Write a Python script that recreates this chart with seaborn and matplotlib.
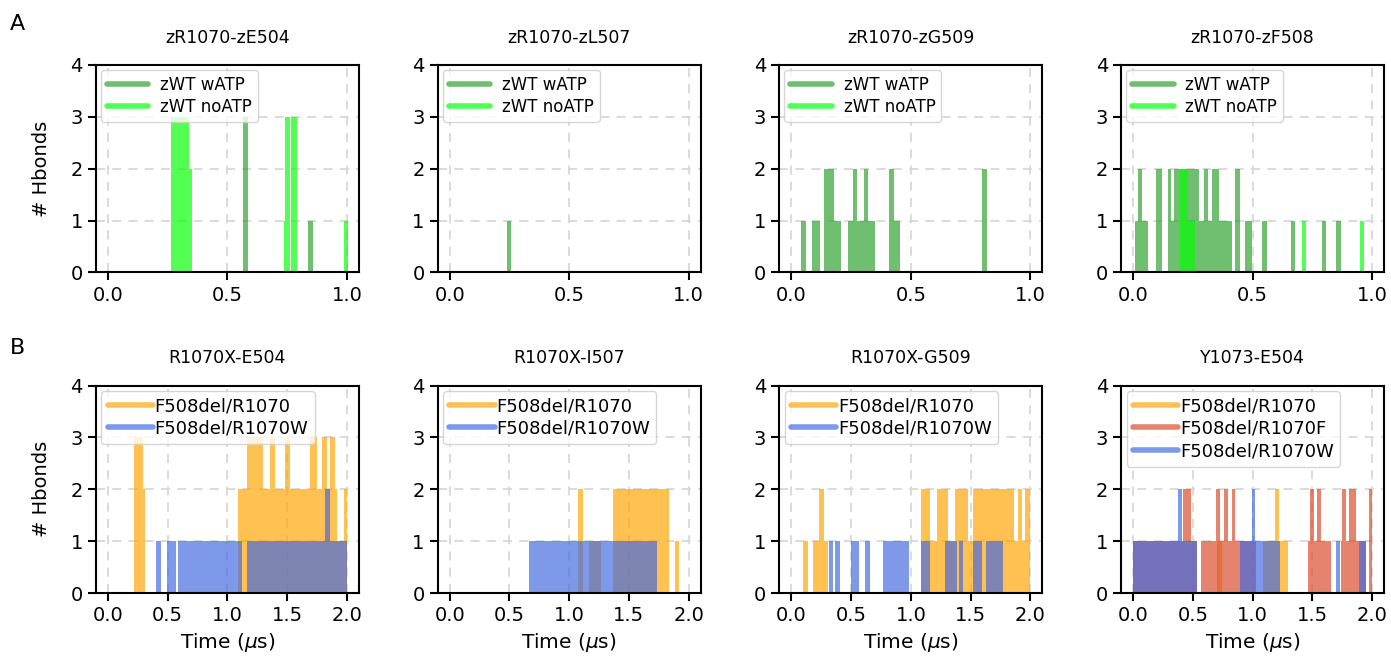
import matplotlib
matplotlib.use("Agg")
import matplotlib.pyplot as plt
import seaborn as sns
from matplotlib.lines import Line2D

# each trace is a step series: time (us) where the H-bond count changes,
# and the count held from that time until the next one

# --- row A: zebrafish, with / without ATP ---
titles_a = ['zR1070-zE504', 'zR1070-zL507', 'zR1070-zG509', 'zR1070-zF508']
labels_a = ['zWT wATP', 'zWT noATP']

e504_watp_t = [0, 0.566, 0.587, 0.839, 0.857, 1.0]
e504_watp_n = [0, 3, 0, 1, 0, 0]
e504_noatp_t = [0, 0.263, 0.338, 0.350, 0.735, 0.742, 0.762, 0.766, 0.793, 0.989, 1.003]
e504_noatp_n = [0, 3, 2, 0, 1, 3, 0, 3, 0, 1, 1]

l507_watp_t = [0, 0.240, 0.257, 1.0]
l507_watp_n = [0, 1, 0, 0]
l507_noatp_t = [0, 1.0]
l507_noatp_n = [0, 0]

g509_watp_t = [0, 0.042, 0.063, 0.086, 0.119, 0.137, 0.177, 0.208, 0.236, 0.257,
               0.275, 0.302, 0.321, 0.348, 0.408, 0.429, 0.453, 0.797, 0.818, 1.0]
g509_watp_n = [0, 1, 0, 1, 0, 2, 1, 0, 1, 2,
               1, 2, 1, 0, 2, 1, 0, 2, 0, 0]
g509_noatp_t = [0, 1.0]
g509_noatp_n = [0, 0]

f508_watp_t = [0, 0.007, 0.021, 0.038, 0.063, 0.096, 0.119, 0.146, 0.160, 0.170,
               0.275, 0.296, 0.314, 0.330, 0.358, 0.375, 0.414, 0.428, 0.449, 0.470,
               0.498, 0.540, 0.560, 0.662, 0.679, 0.791, 0.809, 0.851, 0.868, 1.0]
f508_watp_n = [0, 1, 2, 1, 0, 2, 0, 2, 1, 2,
               1, 2, 1, 2, 1, 1, 0, 2, 0, 1,
               0, 1, 0, 1, 0, 1, 0, 1, 0, 0]
f508_noatp_t = [0, 0.198, 0.228, 0.261, 0.707, 0.724, 0.948, 0.967, 1.0]
f508_noatp_n = [0, 2, 1, 0, 1, 0, 1, 0, 0]

# --- row B: human F508del constructs ---
titles_b = ['R1070X-E504', 'R1070X-I507', 'R1070X-G509', 'Y1073-E504']

be504_r1070_t = [0, 0.218, 0.290, 0.308, 1.085, 1.160, 1.300, 1.357, 1.398, 1.480,
                 1.520, 1.690, 1.750, 1.790, 1.830, 1.860, 1.900, 1.916, 1.975, 2.0]
be504_r1070_n = [0, 3, 2, 0, 2, 3, 2, 3, 2, 3,
                 2, 3, 2, 3, 2, 3, 2, 1, 2, 2]
be504_r1070w_t = [0, 0.406, 0.442, 0.495, 0.568, 0.587, 1.119, 1.160, 1.818, 1.855, 2.0]
be504_r1070w_n = [0, 1, 0, 1, 0, 1, 0, 1, 2, 1, 1]

i507_r1070_t = [0, 1.078, 1.112, 1.162, 1.265, 1.363, 1.832, 1.888, 1.916, 2.0]
i507_r1070_n = [0, 2, 0, 1, 0, 2, 0, 1, 0, 0]
i507_r1070w_t = [0, 0.665, 1.735, 2.0]
i507_r1070w_n = [0, 1, 0, 0]

bg509_r1070_t = [0, 0.101, 0.135, 0.177, 0.227, 0.275, 0.303, 1.088, 1.158, 1.215,
                 1.313, 1.369, 1.481, 1.523, 1.860, 1.900, 1.930, 1.957, 1.994, 2.0]
bg509_r1070_n = [0, 1, 0, 1, 2, 1, 0, 2, 1, 2,
                 1, 2, 1, 2, 1, 2, 1, 2, 0, 0]
bg509_r1070w_t = [0, 0.317, 0.345, 0.367, 0.407, 0.499, 0.569, 0.620, 0.659, 0.766, 0.985,
                  1.088, 1.158, 1.285, 1.383, 1.405, 1.433, 1.523, 1.593, 1.630, 1.770, 2.0]
bg509_r1070w_n = [0, 1, 0, 1, 0, 1, 0, 1, 0, 1, 0,
                  1, 0, 1, 0, 1, 0, 1, 0, 1, 0, 0]

y1073_r1070_t = [0, 0.702, 0.747, 1.086, 1.190, 1.217, 1.295, 2.0]
y1073_r1070_n = [0, 1, 0, 1, 2, 1, 0, 0]
y1073_r1070f_t = [0, 0.418, 0.487, 0.535, 0.571, 0.691, 0.724, 0.758, 0.794, 0.830,
                  0.850, 1.030, 1.462, 1.482, 1.510, 1.538, 1.574, 1.657, 1.741, 1.749,
                  1.783, 1.810, 1.866, 1.950, 1.972, 2.0]
y1073_r1070f_n = [1, 2, 1, 0, 1, 2, 1, 2, 1, 2,
                  1, 0, 1, 2, 1, 2, 1, 0, 1, 2,
                  1, 2, 1, 0, 2, 2]
y1073_r1070w_t = [0, 0.376, 0.409, 0.535, 0.891, 0.994, 1.022, 1.226, 1.694, 1.733, 1.894, 1.950, 2.0]
y1073_r1070w_n = [1, 2, 1, 0, 1, 2, 1, 0, 1, 0, 1, 0, 0]

col_watp = '#2ca02c'
col_noatp = '#00ff00'
col_r1070 = 'orange'
col_r1070f = '#d9482b'
col_r1070w = 'royalblue'

sns.set_style("ticks", {"axes.grid": True, "grid.linestyle": "--",
                        "grid.color": "#d0d0d0", "axes.edgecolor": "black"})
plt.rcParams['font.family'] = ['DejaVu Sans']
plt.rcParams['font.size'] = 14
for k in ['text.color', 'axes.labelcolor', 'xtick.color', 'ytick.color']:
    plt.rcParams[k] = 'black'

row_a = [
    [(e504_watp_t, e504_watp_n, col_watp), (e504_noatp_t, e504_noatp_n, col_noatp)],
    [(l507_watp_t, l507_watp_n, col_watp), (l507_noatp_t, l507_noatp_n, col_noatp)],
    [(g509_watp_t, g509_watp_n, col_watp), (g509_noatp_t, g509_noatp_n, col_noatp)],
    [(f508_watp_t, f508_watp_n, col_watp), (f508_noatp_t, f508_noatp_n, col_noatp)],
]
row_b = [
    [(be504_r1070_t, be504_r1070_n, col_r1070), (be504_r1070w_t, be504_r1070w_n, col_r1070w)],
    [(i507_r1070_t, i507_r1070_n, col_r1070), (i507_r1070w_t, i507_r1070w_n, col_r1070w)],
    [(bg509_r1070_t, bg509_r1070_n, col_r1070), (bg509_r1070w_t, bg509_r1070w_n, col_r1070w)],
    [(y1073_r1070_t, y1073_r1070_n, col_r1070), (y1073_r1070f_t, y1073_r1070f_n, col_r1070f),
     (y1073_r1070w_t, y1073_r1070w_n, col_r1070w)],
]
labels_b = [['F508del/R1070', 'F508del/R1070W']] * 3 + \
           [['F508del/R1070', 'F508del/R1070F', 'F508del/R1070W']]

fig, axes = plt.subplots(2, 4, figsize=(13.91, 6.68), dpi=100)
fig.subplots_adjust(left=0.069, right=0.995, bottom=0.112, top=0.903, wspace=0.30, hspace=0.545)


def draw_panel(ax, traces, labels, title, tmax, legsize, textpad):
    handles = []
    for (t, n, c), lab in zip(traces, labels):
        ax.fill_between(t, n, step='post', facecolor=c, edgecolor='none', alpha=0.68)
        handles.append(Line2D([0], [0], color=c, alpha=0.68, lw=4))
    ax.set_ylim(0, 4)
    ax.set_yticks([0, 1, 2, 3, 4])
    ax.set_xlim(-0.05 * tmax, 1.05 * tmax)
    ax.set_xticks([i * 0.5 for i in range(int(tmax / 0.5) + 1)])
    ax.set_title(title, fontsize=12.5, pad=16)
    ax.tick_params(direction='out', length=6, width=1.5, labelsize=14)
    for s in ax.spines.values():
        s.set_linewidth(1.5)
    ax.grid(True, linestyle=(0, (5, 4)), color='#d8d8d8', linewidth=1.3)
    ax.legend(handles=handles, labels=labels, loc='upper left', fontsize=legsize,
              handlelength=2.5, handletextpad=textpad, borderaxespad=0.3,
              borderpad=0.35, framealpha=0.8, labelspacing=0.25)


for i in range(4):
    draw_panel(axes[0, i], row_a[i], labels_a, titles_a[i], 1.0, 12, 0.7)
    draw_panel(axes[1, i], row_b[i], labels_b[i], titles_b[i], 2.0, 13, 0.1)
    axes[1, i].set_xlabel('Time ($\\mu$s)', fontsize=14.5)
for ax in axes[:, 0]:
    ax.set_ylabel('# Hbonds', fontsize=14, labelpad=14)

fig.text(0.007, 0.955, 'A', fontsize=16)
fig.text(0.007, 0.47, 'B', fontsize=16)

fig.savefig('out.png', dpi=100)
